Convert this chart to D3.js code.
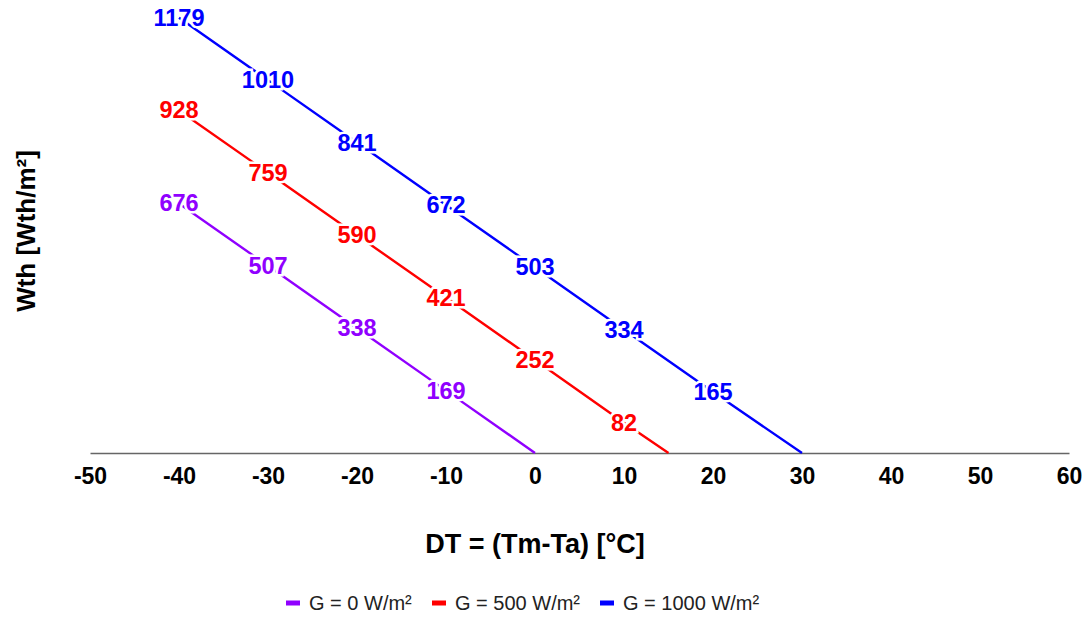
<!DOCTYPE html>
<html>
<head>
<meta charset="utf-8">
<script src="https://cdn.jsdelivr.net/npm/d3@7"></script>
<style>
  html, body { margin: 0; padding: 0; background: #fff; }
  svg { display: block; }
</style>
</head>
<body>
<svg id="chart" width="1091" height="620"></svg>
<script>
// Temperature difference DT = Tm - Ta (°C) for each irradiance level
const dtG0    = [-40, -30, -20, -10, 0];
const dtG500  = [-40, -30, -20, -10, 0, 10, 15];
const dtG1000 = [-40, -30, -20, -10, 0, 10, 20, 30];

// Thermal output Wth (W/m²)
const wthG0    = [676, 507, 338, 169, 0];
const wthG500  = [928, 759, 590, 421, 252, 82, 0];
const wthG1000 = [1179, 1010, 841, 672, 503, 334, 165, 0];

const seriesNames  = ["G = 0 W/m²", "G = 500 W/m²", "G = 1000 W/m²"];
const seriesColors = ["#9000ff", "#ff0000", "#0000ff"];
const xTicks = [-50, -40, -30, -20, -10, 0, 10, 20, 30, 40, 50, 60];

const series = [
  { name: seriesNames[0], color: seriesColors[0], x: dtG0,    y: wthG0 },
  { name: seriesNames[1], color: seriesColors[1], x: dtG500,  y: wthG500 },
  { name: seriesNames[2], color: seriesColors[2], x: dtG1000, y: wthG1000 }
].map(s => ({ ...s, points: s.x.map((v, i) => ({ x: v, y: s.y[i] })) }));

const svg = d3.select("#chart");

const x = d3.scaleLinear().domain([-50, 60]).range([90, 1069]);
const y = d3.scaleLinear().domain([0, 1200]).range([453, 10]);

// Horizontal axis along y = 0 (plain hyphen for negative ticks)
const xAxis = svg.append("g")
  .attr("transform", `translate(0,${y(0)})`)
  .call(d3.axisBottom(x).tickValues(xTicks).tickSize(0).tickPadding(15).tickFormat(d => String(d)));
xAxis.select(".domain").attr("stroke", "#666").attr("stroke-width", 1.5);
xAxis.selectAll("text")
  .attr("font-family", "Liberation Sans, Arial, sans-serif")
  .attr("font-weight", "bold")
  .attr("font-size", 23)
  .attr("fill", "#000");

// Lines
const line = d3.line().x(d => x(d.x)).y(d => y(d.y));
svg.append("g").selectAll("path")
  .data(series)
  .join("path")
  .attr("d", s => line(s.points))
  .attr("fill", "none")
  .attr("stroke", s => s.color)
  .attr("stroke-width", 2.4);

// Value labels centred on each non-zero point, with a white halo
const labelG = svg.append("g");
series.forEach(s => {
  labelG.selectAll(null)
    .data(s.points.filter(p => p.y !== 0))
    .join("text")
    .attr("x", p => x(p.x))
    .attr("y", p => y(p.y))
    .attr("text-anchor", "middle")
    .attr("dominant-baseline", "central")
    .attr("font-family", "Liberation Sans, Arial, sans-serif")
    .attr("font-weight", "bold")
    .attr("font-size", 23.5)
    .attr("fill", s.color)
    .attr("stroke", "#fff")
    .attr("stroke-width", 5)
    .attr("paint-order", "stroke")
    .text(p => p.y);
});

// Axis titles
svg.append("text")
  .attr("x", x(0))
  .attr("y", 553)
  .attr("text-anchor", "middle")
  .attr("font-family", "Liberation Sans, Arial, sans-serif")
  .attr("font-weight", "bold")
  .attr("font-size", 27)
  .attr("fill", "#000")
  .text("DT = (Tm-Ta) [°C]");

svg.append("text")
  .attr("transform", "translate(35,231) rotate(-90)")
  .attr("text-anchor", "middle")
  .attr("font-family", "Liberation Sans, Arial, sans-serif")
  .attr("font-weight", "bold")
  .attr("font-size", 26)
  .attr("fill", "#000")
  .text("Wth [Wth/m²]");

// Legend
const legendX = [286, 432, 600];
const legend = svg.append("g").selectAll("g")
  .data(series)
  .join("g")
  .attr("transform", (s, i) => `translate(${legendX[i]},603)`);
legend.append("rect")
  .attr("x", 0).attr("y", -2.5)
  .attr("width", 14).attr("height", 5)
  .attr("fill", s => s.color);
legend.append("text")
  .attr("x", 23)
  .attr("y", 0)
  .attr("dominant-baseline", "central")
  .attr("font-family", "Liberation Sans, Arial, sans-serif")
  .attr("font-size", 20)
  .attr("fill", "#222")
  .text(s => s.name);
</script>
</body>
</html>
